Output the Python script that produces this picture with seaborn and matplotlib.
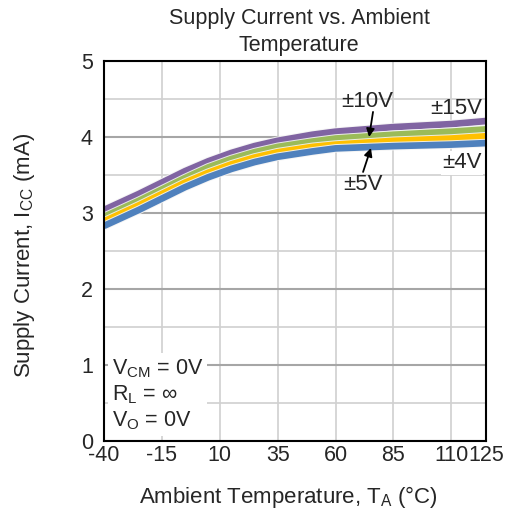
import numpy as np
import pandas as pd
import matplotlib
matplotlib.use("Agg")
import matplotlib.pyplot as plt
import matplotlib.patheffects as pe
import seaborn as sns

temps = [-40, -25, -15, -5, 5, 15, 25, 35, 50, 60, 85, 110, 125]
icc_15v = [3.04, 3.25, 3.40, 3.55, 3.68, 3.79, 3.88, 3.95, 4.03, 4.07, 4.13, 4.17, 4.21]
icc_10v = [2.95, 3.16, 3.31, 3.46, 3.60, 3.71, 3.80, 3.87, 3.94, 3.98, 4.03, 4.07, 4.10]
icc_5v = [2.89, 3.10, 3.25, 3.40, 3.53, 3.64, 3.73, 3.80, 3.87, 3.90, 3.95, 3.98, 4.01]
icc_4v = [2.83, 3.04, 3.19, 3.34, 3.47, 3.58, 3.67, 3.74, 3.81, 3.85, 3.88, 3.90, 3.92]
series = ["±15V", "±10V", "±5V", "±4V"]
x_ticks = [-40, -15, 10, 35, 60, 85, 110, 125]
y_ticks = [0, 1, 2, 3, 4, 5]

df = pd.concat([
    pd.DataFrame({"T": temps, "I": v, "S": s})
    for s, v in zip(series, [icc_15v, icc_10v, icc_5v, icc_4v])
])

sns.set_style("white")
plt.rcParams["font.family"] = ["Liberation Sans", "DejaVu Sans"]
plt.rcParams["mathtext.fontset"] = "custom"
plt.rcParams["mathtext.rm"] = "Liberation Sans"

W, H = 506, 523
fig = plt.figure(figsize=(W / 100, H / 100), dpi=100)
ax = fig.add_axes([104 / W, 1 - 441 / H, 382 / W, 380 / H])

palette = {"±15V": "#8064a2", "±10V": "#9bbb59", "±5V": "#ffc000", "±4V": "#4f81bd"}
sns.lineplot(data=df, x="T", y="I", hue="S", palette=palette, ax=ax,
             linewidth=4.8, legend=False)
for ln in ax.lines:
    ln.set_path_effects([pe.Stroke(linewidth=6.2, foreground="#f4f4f4", alpha=0.9), pe.Normal()])
    ln.set_solid_capstyle("butt")
    ln.set_solid_joinstyle("round")

ax.set_xlim(-40, 125)
ax.set_ylim(0, 5)
ax.set_xticks(x_ticks)
ax.set_xticklabels([str(t) for t in x_ticks])
ax.set_yticks(y_ticks)
ax.set_yticks(np.arange(0.5, 5, 1.0), minor=True)
ax.grid(True, which="major", axis="y", color="#a6a6a6", linewidth=1.5, zorder=0)
ax.grid(True, which="minor", axis="y", color="#d0d0d0", linewidth=1.2, zorder=0)
ax.grid(True, which="major", axis="x", color="#d0d0d0", linewidth=1.2, zorder=0)
ax.set_axisbelow(True)
ax.tick_params(axis="x", which="both", length=0, labelsize=15.5, pad=3)
ax.tick_params(axis="y", which="both", length=0, labelsize=15.5, pad=8)
for sp in ax.spines.values():
    sp.set_color("black")
    sp.set_linewidth(1.5)

ax.set_xlabel(r"Ambient Temperature, T$_{\mathregular{A}}$ (°C)", fontsize=16)
ax.set_ylabel(r"Supply Current, I$_{\mathregular{CC}}$ (mA)", fontsize=16)
ax.xaxis.set_label_coords(0.484, (441 - 497) / 380)
ax.xaxis.label.set_va("center")
ax.yaxis.set_label_coords((25 - 104) / 382, 0.489)
ax.yaxis.label.set_va("center")

fig.text(299 / W, 1 - 32 / H, "Supply Current vs. Ambient\nTemperature",
         fontsize=15.5, ha="center", va="center", linespacing=1.35)

fs = 16
ax.text(73.6, 4.47, "±10V", fontsize=fs, ha="center", va="center")
ax.annotate("", xy=(74.5, 4.0), xytext=(76.2, 4.33),
            arrowprops=dict(arrowstyle="-|>", color="black", lw=1.3, mutation_scale=12,
                            shrinkA=0, shrinkB=0))
ax.text(123.3, 4.38, "±15V", fontsize=fs, ha="right", va="center")
ax.text(71.9, 3.38, "±5V", fontsize=fs, ha="center", va="center")
ax.annotate("", xy=(75.3, 3.855), xytext=(71.9, 3.54),
            arrowprops=dict(arrowstyle="-|>", color="black", lw=1.3, mutation_scale=12,
                            shrinkA=0, shrinkB=0))
ax.text(123.3, 3.66, "±4V", fontsize=fs, ha="right", va="center",
        bbox=dict(facecolor="white", edgecolor="none", pad=1))

ax.text(-36.5, 0.12, "V$_{\\mathregular{CM}}$ = 0V\nR$_{\\mathregular{L}}$ = ∞\nV$_{\\mathregular{O}}$ = 0V",
        fontsize=15.5, ha="left", va="bottom", linespacing=1.2,
        bbox=dict(facecolor="white", edgecolor="none", pad=3))

fig.savefig("out.png", dpi=100)
